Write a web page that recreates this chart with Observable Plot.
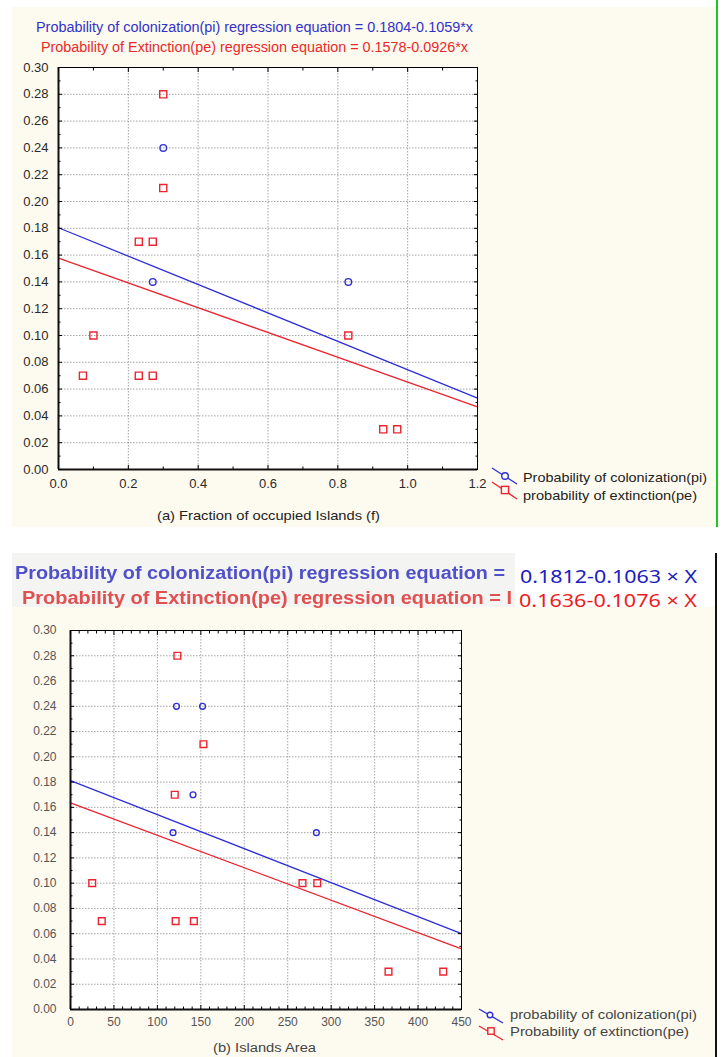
<!DOCTYPE html>
<html><head><meta charset="utf-8">
<script src="https://cdn.jsdelivr.net/npm/d3@7"></script>
<script src="https://cdn.jsdelivr.net/npm/@observablehq/plot@0.6"></script>
<style>
body{margin:0;background:#fff;}
#root{position:relative;width:723px;height:1057px;overflow:hidden;font-family:"Liberation Sans",Arial,sans-serif;}
</style></head><body><div id="root"></div>
<script>
// ---------- Data: panel (a) Fraction of occupied Islands ----------
const colonA_x = [0.30, 0.27, 0.83];
const colonA_y = [0.24, 0.14, 0.14];
const extA_x = [0.30, 0.30, 0.23, 0.27, 0.10, 0.07, 0.23, 0.27, 0.83, 0.93, 0.97];
const extA_y = [0.28, 0.21, 0.17, 0.17, 0.10, 0.07, 0.07, 0.07, 0.10, 0.03, 0.03];
const lineA_x = [0, 1.2];
const lineA_colon = [0.1804, 0.0533];
const lineA_ext = [0.1578, 0.0467];
const xTicksA = [0, 0.2, 0.4, 0.6, 0.8, 1.0, 1.2];
const xMinorA = [0.1, 0.3, 0.5, 0.7, 0.9, 1.1];

// ---------- Data: panel (b) Islands Area ----------
const colonB_x = [122, 152, 141, 118, 283];
const colonB_y = [0.24, 0.24, 0.17, 0.14, 0.14];
const extB_x = [123, 153, 120, 25, 36, 121, 142, 267, 284, 366, 429];
const extB_y = [0.28, 0.21, 0.17, 0.10, 0.07, 0.07, 0.07, 0.10, 0.10, 0.03, 0.03];
const lineB_x = [0, 450];
const lineB_colon = [0.1812, 0.060];
const lineB_ext = [0.1636, 0.048];
const xTicksB = [0, 50, 100, 150, 200, 250, 300, 350, 400, 450];
const xMinorB = [10,20,30,40,60,70,80,90,110,120,130,140,160,170,180,190,210,220,230,240,260,270,280,290,310,320,330,340,360,370,380,390,410,420,430,440];

// ---------- shared y ticks ----------
const yTicks = [0.00,0.02,0.04,0.06,0.08,0.10,0.12,0.14,0.16,0.18,0.20,0.22,0.24,0.26,0.28,0.30];
const yMinor = [0.01,0.03,0.05,0.07,0.09,0.11,0.13,0.15,0.17,0.19,0.21,0.23,0.25,0.27,0.29];

// ---------- texts ----------
const titleA = ["Probability of colonization(pi) regression equation = 0.1804-0.1059*x",
                "Probability of Extinction(pe) regression equation = 0.1578-0.0926*x"];
const titleB = ["Probability of colonization(pi) regression equation =",
                "Probability of Extinction(pe) regression equation = I"];
const eqB = ["0.1812-0.1063 × X", "0.1636-0.1076 × X"];
const legendA = ["Probability of colonization(pi)", "probability of extinction(pe)"];
const legendB = ["probability of colonization(pi)", "Probability of extinction(pe)"];
const xLabelA = "(a) Fraction of occupied Islands (f)";
const xLabelB = "(b) Islands Area";

const BLUE = "#2f2fd8", RED = "#ec2430", CREAM = "#fdfaef";
const FONT = '"Liberation Sans",Arial,sans-serif';
const root = document.getElementById("root");

function box(l,t,w,h,bg){const d=document.createElement("div");d.style.cssText=`position:absolute;left:${l}px;top:${t}px;width:${w}px;height:${h}px;background:${bg}`;root.appendChild(d);}
function label(text,{left,cy,width,size,color,weight=400,family=FONT,blur=0,ls=0}){
  const d=document.createElement("div");
  d.textContent=text;
  d.style.cssText=`position:absolute;left:${left}px;top:${cy}px;white-space:nowrap;font-family:${family};font-size:${size}px;font-weight:${weight};color:${color};line-height:1;letter-spacing:${ls}px;transform-origin:0 50%;`;
  root.appendChild(d);
  const w=d.getBoundingClientRect().width;
  const k=width? width/w:1;
  d.style.transform=`translateY(-50%) scaleX(${k})`;
  if(blur) d.style.filter=`blur(${blur}px)`;
}

// backgrounds
box(12,7,704,520,CREAM);
box(716,0,2,527,"#1fc81f");
box(12,553,503,54,"#f4f4f2");
box(12,607,704,450,CREAM);
box(715,553,2,504,"#111");

function panel(o){
  const colon = o.cx.map((x,i)=>({x,y:o.cy[i]}));
  const ext = o.ex.map((x,i)=>({x,y:o.ey[i]}));
  const lc = o.lx.map((x,i)=>({x,y:o.lc[i]}));
  const le = o.lx.map((x,i)=>({x,y:o.le[i]}));
  const grid = {stroke:"#9a9a9a",strokeOpacity:0.9,strokeDasharray:"1.5,1.5"};
  const p = Plot.plot({
    width:723, height:o.height,
    marginLeft:o.ml, marginRight:o.mr, marginTop:o.mt, marginBottom:o.mb,
    x:{domain:o.xDomain}, y:{domain:[0,0.30]},
    style:{background:"transparent",fontFamily:FONT,fontSize:o.fs+"px",color:o.tickColor,overflow:"visible"},
    marks:[
      Plot.frame({fill:"white"}),
      Plot.gridX(o.xTicks,grid),
      Plot.gridY(yTicks,grid),
      Plot.line(lc,{x:"x",y:"y",stroke:BLUE,strokeWidth:1.3}),
      Plot.line(le,{x:"x",y:"y",stroke:RED,strokeWidth:1.3}),
      Plot.dot(colon,{x:"x",y:"y",r:o.rc,stroke:BLUE,strokeWidth:1.4,fill:"none"}),
      Plot.dot(ext,{x:"x",y:"y",r:o.rs,symbol:"square",stroke:RED,strokeWidth:1.4,fill:"none"}),
      Plot.frame({stroke:"#000",strokeWidth:1}),
      Plot.ruleX([o.xDomain[0]],{stroke:"#111",strokeWidth:2}),
      Plot.ruleY([0],{stroke:"#111",strokeWidth:2}),
      Plot.axisY(yTicks,{anchor:"left",tickSize:0,tickPadding:o.yPad,tickFormat:d3.format(".2f"),label:null}),
      Plot.axisX(o.xTicks,{anchor:"bottom",tickSize:0,tickPadding:o.xPad,tickFormat:o.xFmt,label:null}),
      Plot.axisY(yTicks,{anchor:"left",tickSize:-4,fill:"none",stroke:"#000"}),
      Plot.axisY(yTicks,{anchor:"right",tickSize:-4,fill:"none",stroke:"#000"}),
      Plot.axisY(yMinor,{anchor:"left",tickSize:-2.5,fill:"none",stroke:"#000"}),
      Plot.axisY(yMinor,{anchor:"right",tickSize:-2.5,fill:"none",stroke:"#000"}),
      Plot.axisX(o.xTicks,{anchor:"top",tickSize:-4,fill:"none",stroke:"#000"}),
      Plot.axisX(o.xTicks,{anchor:"bottom",tickSize:-4,fill:"none",stroke:"#000"}),
      Plot.axisX(o.xMinor,{anchor:"top",tickSize:-2.5,fill:"none",stroke:"#000"}),
      Plot.axisX(o.xMinor,{anchor:"bottom",tickSize:-2.5,fill:"none",stroke:"#000"})
    ]
  });
  const w=document.createElement("div");
  w.style.cssText=`position:absolute;left:0;top:${o.top}px;`;
  w.appendChild(p);
  root.appendChild(w);
}

panel({top:0,height:527,ml:58,mr:246,mt:67,mb:58,xDomain:[0,1.2],xTicks:xTicksA,xMinor:xMinorA,
  cx:colonA_x,cy:colonA_y,ex:extA_x,ey:extA_y,lx:lineA_x,lc:lineA_colon,le:lineA_ext,
  fs:13,tickColor:"#2a2a2a",yPad:10,xPad:9,xFmt:d3.format(".1f"),rc:3.3,rs:4});
panel({top:560,height:497,ml:70,mr:262,mt:70,mb:48,xDomain:[0,450],xTicks:xTicksB,xMinor:xMinorB,
  cx:colonB_x,cy:colonB_y,ex:extB_x,ey:extB_y,lx:lineB_x,lc:lineB_colon,le:lineB_ext,
  fs:12,tickColor:"#555",yPad:14,xPad:8,xFmt:d3.format("d"),rc:2.9,rs:3.8});

// titles
label(titleA[0],{left:36,cy:27,width:437,size:14,color:"#3232c8"});
label(titleA[1],{left:41,cy:47,width:427,size:14,color:"#ea2a2a"});
label(titleB[0],{left:15,cy:573,width:490,size:18,weight:700,color:"#5050c8",blur:0.6});
label(titleB[1],{left:22,cy:598,width:490,size:18,weight:700,color:"#e05050",blur:0.6});
label(eqB[0],{left:520,cy:576,width:177,size:18,color:"#2020c0",family:'"Noto Sans",sans-serif'});
label(eqB[1],{left:519,cy:600,width:178,size:18,color:"#ee1c1c",family:'"Noto Sans",sans-serif'});

// axis titles
label(xLabelA,{left:157,cy:515,width:223,size:13,color:"#222"});
label(xLabelB,{left:213,cy:1048,width:103,size:12,color:"#444"});

// legends
label(legendA[0],{left:523,cy:477,width:184,size:13,color:"#222"});
label(legendA[1],{left:523,cy:495,width:174,size:13,color:"#222"});
label(legendB[0],{left:510,cy:1015,width:187,size:12,color:"#444"});
label(legendB[1],{left:510,cy:1032,width:179,size:12,color:"#444"});

const ns="http://www.w3.org/2000/svg";
const ov=document.createElementNS(ns,"svg");
ov.setAttribute("width",723);ov.setAttribute("height",1057);
ov.style.cssText="position:absolute;left:0;top:0;pointer-events:none;";
const legendSym=[
  {x1:492,y1:468,x2:517,y2:484,cx:505,cy:476,c:BLUE,s:"circle",r:3.3},
  {x1:492,y1:482,x2:517,y2:499,cx:505,cy:490,c:RED,s:"square",r:3.6},
  {x1:479,y1:1009,x2:503,y2:1023,cx:490,cy:1015,c:BLUE,s:"circle",r:2.8},
  {x1:479,y1:1026,x2:503,y2:1040,cx:491,cy:1031,c:RED,s:"square",r:3.2}
];
legendSym.forEach(d=>{
  const l=document.createElementNS(ns,"line");
  l.setAttribute("x1",d.x1);l.setAttribute("y1",d.y1);l.setAttribute("x2",d.x2);l.setAttribute("y2",d.y2);
  l.setAttribute("stroke",d.c);l.setAttribute("stroke-width",1.3);ov.appendChild(l);
  let m;
  if(d.s==="circle"){m=document.createElementNS(ns,"circle");m.setAttribute("cx",d.cx);m.setAttribute("cy",d.cy);m.setAttribute("r",d.r);}
  else{m=document.createElementNS(ns,"rect");m.setAttribute("x",d.cx-d.r);m.setAttribute("y",d.cy-d.r);m.setAttribute("width",2*d.r);m.setAttribute("height",2*d.r);}
  m.setAttribute("fill",CREAM);m.setAttribute("stroke",d.c);m.setAttribute("stroke-width",1.4);ov.appendChild(m);
});
root.appendChild(ov);
</script></body></html>
